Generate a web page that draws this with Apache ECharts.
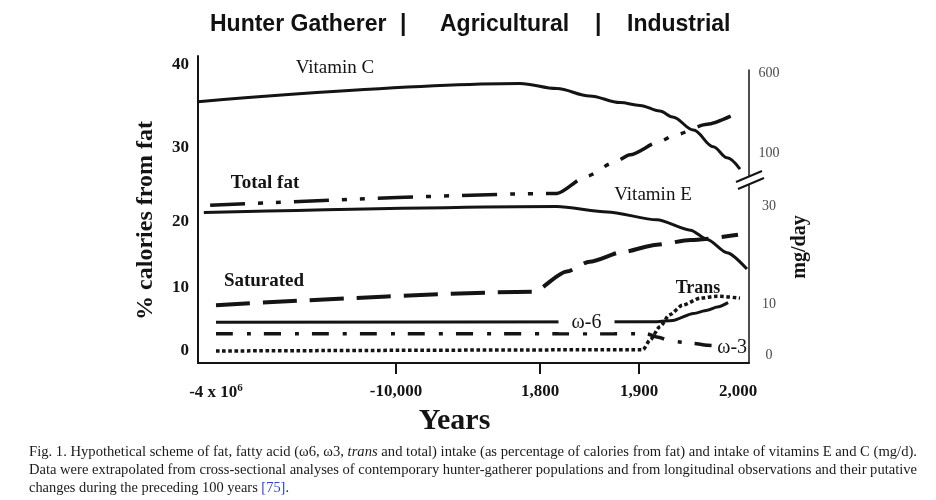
<!DOCTYPE html>
<html><head><meta charset="utf-8">
<script src="https://cdn.jsdelivr.net/npm/echarts@6/dist/echarts.min.js"></script>
<style>html,body{margin:0;padding:0;background:#fff}#c{width:936px;height:500px}</style>
</head><body><div id="c"></div>
<script>
// ---------- tick anchors ----------
const xTickYears  = [-4000000, -10000, 1800, 1900, 2000];
const xTickLabels = ['-4 x 10{sup|6}', '-10,000', '1,800', '1,900', '2,000'];
const leftTicks   = [0, 10, 20, 30, 40];          // % calories from fat
const rightTicks  = [0, 10, 30, 100, 600];        // mg/day (broken axis)

// ---------- series: [year, value] ----------
const vitaminC  = [[-4400000, 423], [160, 538], [1817, 506], [1850, 459], [1881, 418], [1901, 400], [1921, 365], [1934, 327], [1955, 246], [1975, 141], [1989, 94], [2002, 79]];
const vitaminE  = [[-4270000, 28.7], [1817, 29.9], [1868, 28.8], [1918, 27.2], [1952, 25.1], [1969, 23.2], [1989, 20.5], [2009, 17.2]];
const totalFat  = [[-4130000, 22.2], [1817, 23.8], [1847, 26.1], [1874, 27.9], [1891, 29.0], [1921, 30.7], [1936, 31.5], [1969, 32.8], [2000, 34.2]];
const saturated = [[-4000000, 7.2], [1230, 9.3], [1827, 12.4], [1850, 13.9], [1884, 15.4], [1918, 16.5], [1952, 17.2], [2000, 18.0]];
const omega6    = [[-4000000, 4.5], [1918, 4.6], [1934, 4.8], [1955, 5.9], [1969, 6.4], [1979, 6.9], [1990, 7.6]];
const omega3    = [[-4000000, 2.7], [1908, 2.7], [1918, 2.2], [1934, 1.5], [1955, 1.2], [1969, 0.9], [1977, 0.85]];
const trans     = [[-4000000, 0], [1904, 0.2], [1911, 1.7], [1921, 3.8], [1931, 5.7], [1944, 7.2], [1962, 8.3], [1979, 8.6], [2002, 8.3]];

// ---------- layout of the (non-linear, schematic) scales ----------
const X_POS = [18, 198, 342, 441, 540];          // axis units for xTickYears
const L_POS = [12, 75.7, 141.3, 215.7, 298];     // axis units for leftTicks
const R_POS = [7.5, 58.5, 157, 209.8, 289.5];    // axis units for rightTicks
const X_MAX = 551, L_MAX = 307, R_MAX = 293;

function warp(v, from, to) {
  let i = 0;
  while (i < from.length - 2 && v > from[i + 1]) i++;
  const t = (v - from[i]) / (from[i + 1] - from[i]);
  return to[i] + t * (to[i + 1] - to[i]);
}
function nearestIdx(v, arr) {
  let b = 0;
  arr.forEach((a, i) => { if (Math.abs(a - v) < Math.abs(arr[b] - v)) b = i; });
  return b;
}
const wx = y => warp(y, xTickYears, X_POS);
const mapL = d => d.map(([y, v]) => [wx(y), warp(v, leftTicks, L_POS)]);
const mapR = d => d.map(([y, v]) => [wx(y), warp(v, rightTicks, R_POS)]);

const INK = '#141414';
const SERIF = 'Liberation Serif';

function ser(name, data, right, width, type, extra) {
  return Object.assign({
    name, type: 'line',
    xAxisIndex: right ? 1 : 0, yAxisIndex: right ? 1 : 0,
    data: right ? mapR(data) : mapL(data),
    showSymbol: false, symbol: 'none',
    smooth: 0.25, smoothMonotone: 'x',
    lineStyle: { color: INK, width, type, cap: 'butt' },
    silent: true
  }, extra || {});
}

const chart = echarts.init(document.getElementById('c'), null, { renderer: 'canvas' });

const titleStyle = { fontFamily: 'Liberation Sans', fontWeight: 'bold', fontSize: 23, color: '#111' };
const annot = (text, x, y, bold, size) => ({
  type: 'text', x, y, silent: true,
  style: { text, fill: INK, fontFamily: SERIF, fontWeight: bold ? 'bold' : 'normal', fontSize: size, align: 'center', verticalAlign: 'middle' }
});

// caption (justified lines approximated by horizontal scaling)
const mctx = document.createElement('canvas').getContext('2d');
function mw(font, s) { mctx.font = font; return mctx.measureText(s).width; }
const CF = 14, CAP_L = 29, CAP_W = 888;
const nf = CF + 'px "' + SERIF + '"', itf = 'italic ' + CF + 'px "' + SERIF + '"';
const cap1a = 'Fig. 1. Hypothetical scheme of fat, fatty acid (ω6, ω3, ';
const cap1b = 'trans';
const cap1c = ' and total) intake (as percentage of calories from fat) and intake of vitamins E and C (mg/d).';
const cap2 = 'Data were extrapolated from cross-sectional analyses of contemporary hunter-gatherer populations and from longitudinal observations and their putative';
const cap3a = 'changes during the preceding 100 years ';
const cap3b = '[75]';
const w1 = mw(nf, cap1a) + mw(itf, cap1b) + mw(nf, cap1c);
const w2 = mw(nf, cap2);
const w3 = mw(nf, cap3a + cap3b + '.');
const capRich = {
  i: { fontStyle: 'italic', fontSize: CF, fontFamily: SERIF, fill: '#1a1a1a' },
  b: { fontSize: CF, fontFamily: SERIF, fill: '#2d3fcf' }
};
const capLine = (text, y, sx) => ({
  type: 'text', x: CAP_L, y, scaleX: sx, originX: 0, silent: true,
  style: { text, rich: capRich, fill: '#1a1a1a', fontFamily: SERIF, fontSize: CF, align: 'left', verticalAlign: 'middle' }
});

const option = {
  animation: false,
  backgroundColor: '#fff',
  title: [
    { text: 'Hunter Gatherer', left: 205, top: 8, textStyle: titleStyle },
    { text: '|', left: 395, top: 8, textStyle: titleStyle },
    { text: 'Agricultural', left: 435, top: 8, textStyle: titleStyle },
    { text: '|', left: 590, top: 8, textStyle: titleStyle },
    { text: 'Industrial', left: 622, top: 8, textStyle: titleStyle }
  ],
  grid: [
    { left: 198, right: 187, top: 56, bottom: 137, outerBoundsMode: 'none' },
    { left: 198, right: 187, top: 70, bottom: 137, outerBoundsMode: 'none' }
  ],
  xAxis: [
    {
      gridIndex: 0, type: 'value', min: 0, max: X_MAX,
      axisLine: { show: true, onZero: false, lineStyle: { color: INK, width: 2 } },
      axisTick: { show: true, customValues: [wx(-10000), wx(1800), wx(1900)], length: 11, lineStyle: { color: INK, width: 2 } },
      splitLine: { show: false },
      axisLabel: {
        customValues: X_POS, margin: 20,
        formatter: v => xTickLabels[nearestIdx(v, X_POS)],
        fontFamily: SERIF, fontWeight: 'bold', fontSize: 17, color: INK,
        rich: { sup: { fontFamily: SERIF, fontWeight: 'bold', fontSize: 11, color: INK, verticalAlign: 'top', padding: [0, 0, 8, 0] } }
      },
      name: 'Years', nameLocation: 'middle', nameGap: 38,
      nameTextStyle: { fontFamily: SERIF, fontWeight: 'bold', fontSize: 30, color: INK, padding: [0, 38, 0, 0] }
    },
    { gridIndex: 1, type: 'value', min: 0, max: X_MAX, show: false }
  ],
  yAxis: [
    {
      gridIndex: 0, type: 'value', min: 0, max: L_MAX, position: 'left',
      axisLine: { show: true, onZero: false, lineStyle: { color: INK, width: 2 } },
      axisTick: { show: false }, splitLine: { show: false },
      axisLabel: {
        customValues: L_POS, margin: 9,
        formatter: v => String(leftTicks[nearestIdx(v, L_POS)]),
        fontFamily: SERIF, fontWeight: 'bold', fontSize: 17, color: INK
      },
      name: '% calories from fat', nameLocation: 'middle', nameGap: 40, nameRotate: 90,
      nameTextStyle: { fontFamily: SERIF, fontWeight: 'bold', fontSize: 24, color: INK, padding: [0, 22, 0, 0] }
    },
    {
      gridIndex: 1, type: 'value', min: 0, max: R_MAX, position: 'right',
      axisLine: { show: true, onZero: false, lineStyle: { color: INK, width: 1.5 } },
      axisTick: { show: false }, splitLine: { show: false },
      axisLabel: {
        customValues: R_POS, margin: 20, align: 'center',
        formatter: v => String(rightTicks[nearestIdx(v, R_POS)]),
        fontFamily: SERIF, fontSize: 14, color: '#4a4a4a'
      }
    }
  ],
  series: [
    ser('Vitamin C', vitaminC, true, 3, 'solid', { smooth: 0.35 }),
    ser('Vitamin E', vitaminE, true, 3, 'solid'),
    ser('Total fat', totalFat, false, 3.5, [35, 13, 5, 13, 5, 13]),
    ser('Saturated', saturated, false, 4, [34, 13]),
    ser('ω-6', omega6, false, 3, 'solid', {
      markPoint: {
        silent: true, symbol: 'rect', symbolSize: [56, 20],
        itemStyle: { color: '#fff' },
        label: { show: true, position: 'inside', formatter: 'ω-6', fontFamily: SERIF, fontSize: 20, color: INK },
        data: [{ coord: [wx(1847), warp(4.5, leftTicks, L_POS)] }]
      }
    }),
    ser('ω-3', omega3, false, 3.5, [17, 14, 4, 13], {
      endLabel: { show: true, formatter: 'ω-3', distance: 2, fontFamily: SERIF, fontSize: 20, color: INK, offset: [0, 2] }
    }),
    ser('Trans', trans, false, 3.5, [3.6, 2.6])
  ],
  graphic: [
    annot('Vitamin C', 335, 68, false, 19),
    annot('Total fat', 265, 183, true, 19),
    annot('Vitamin E', 653, 195, false, 19),
    annot('Saturated', 264, 281, true, 19),
    annot('Trans', 698, 288, true, 18),
    {
      type: 'text', x: 800, y: 247, rotation: Math.PI / 2, silent: true,
      style: { text: 'mg/day', fill: INK, fontFamily: SERIF, fontWeight: 'bold', fontSize: 20, align: 'center', verticalAlign: 'middle' }
    },
    // axis break marks on the right axis
    { type: 'rect', silent: true, z: 100, shape: { x: 744, y: 176, width: 10, height: 8 }, style: { fill: '#fff' } },
    { type: 'line', silent: true, z: 101, shape: { x1: 736, y1: 182, x2: 762, y2: 171 }, style: { stroke: INK, lineWidth: 2 } },
    { type: 'line', silent: true, z: 101, shape: { x1: 738, y1: 189, x2: 764, y2: 178 }, style: { stroke: INK, lineWidth: 2 } },
    // caption
    capLine(cap1a + '{i|' + cap1b + '}' + cap1c, 452, CAP_W / w1),
    capLine(cap2, 470, CAP_W / w2),
    capLine(cap3a + '{b|' + cap3b + '}.', 488, 260 / w3)
  ]
};
chart.setOption(option);
</script></body></html>
